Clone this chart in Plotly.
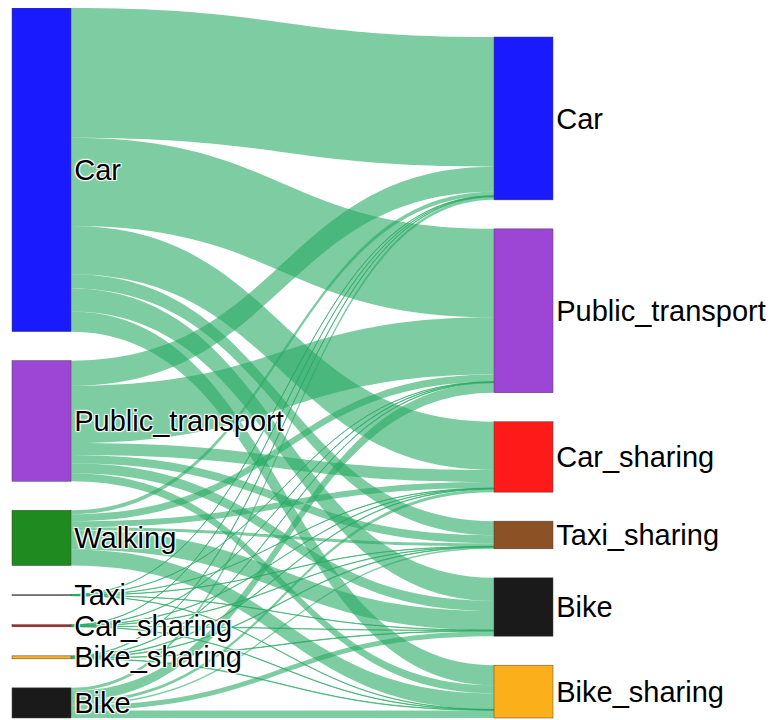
import plotly.graph_objects as go

# ---- data -------------------------------------------------------------
origin_modes = ["Car", "Public_transport", "Walking", "Taxi", "Car_sharing", "Bike_sharing", "Bike"]
dest_modes = ["Car", "Public_transport", "Car_sharing", "Taxi_sharing", "Bike", "Bike_sharing"]

# flows: one list per origin mode, values towards dest_modes (same order)
flow_car = [129, 88, 48, 14, 23, 20]
flow_public_transport = [25, 57, 12, 8, 10, 8]
flow_walking = [4, 7, 6, 3, 19, 16]
flow_taxi = [0.2, 0.2, 0.2, 0.2, 0.2, 0.2]
flow_car_sharing = [0.35, 0.35, 0.35, 0.35, 0.35, 0.35]
flow_bike_sharing = [0.5, 0.5, 0.5, 0.5, 0.5, 0.5]
flow_bike = [3, 10, 3, 1.5, 5, 7.5]

flows = [flow_car, flow_public_transport, flow_walking, flow_taxi,
         flow_car_sharing, flow_bike_sharing, flow_bike]

# ---- style ------------------------------------------------------------
origin_colors = ["#1a1aff", "#9d45d4", "#1f8a1f", "#808080", "#b22222", "#fbb01b", "#1a1a1a"]
dest_colors = ["#1a1aff", "#9d45d4", "#ff1a1a", "#8c5226", "#1a1a1a", "#fbb01b"]
LINK_COLOR = "rgba(40,170,100,0.6)"
PAD = 29          # px between nodes
THICK = 59        # node thickness px
W_PX = 541        # sankey drawing width px
H_PX = 710        # sankey drawing height px

# ---- build nodes / links ---------------------------------------------
n_o, n_d = len(origin_modes), len(dest_modes)
labels = origin_modes + dest_modes + [""]          # last: invisible helper node
colors = origin_colors + dest_colors + ["rgba(0,0,0,0)"]
helper = n_o + n_d

src, tgt, val, lcol = [], [], [], []
for i, row in enumerate(flows):
    for j, v in enumerate(row):
        src.append(i)
        tgt.append(n_o + j)
        val.append(v)
        lcol.append(LINK_COLOR)
# helper link (invisible, off-screen) so the destination column keeps its labels on the right
src.append(0); tgt.append(helper); val.append(1e-6); lcol.append("rgba(0,0,0,0)")

origin_tot = [sum(r) for r in flows]
dest_tot = [sum(r[j] for r in flows) for j in range(n_d)]
total = sum(origin_tot)
ky = (H_PX - (n_o - 1) * PAD) / total


def column_centres(values):
    span = sum(values) * ky + (len(values) - 1) * PAD
    y = H_PX - span            # bottom aligned
    out = []
    for v in values:
        h = v * ky
        out.append((y + h / 2) / H_PX)
        y += h + PAD
    return out


xs = [THICK / 2 / W_PX] * n_o + [1 - THICK / 2 / W_PX] * n_d + [1.0]
ys = column_centres(origin_tot) + column_centres(dest_tot) + [1.5]

fig = go.Figure(go.Sankey(
    arrangement="fixed",
    node=dict(label=labels, color=colors, pad=PAD, thickness=THICK,
              x=xs, y=ys,
              line=dict(color="#444", width=0.5)),
    link=dict(source=src, target=tgt, value=val, color=lcol),
    textfont=dict(family="Arial, Liberation Sans", size=29, color="#000"),
))
fig.update_layout(width=777, height=720, margin=dict(l=4, r=232, t=0, b=10),
                  paper_bgcolor="white")
fig.write_html("out.html")
